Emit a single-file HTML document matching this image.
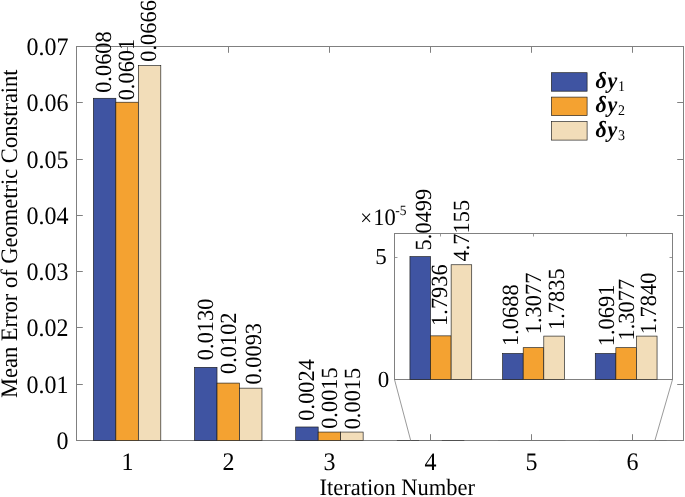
<!DOCTYPE html>
<html><head><meta charset="utf-8"><style>
html,body{margin:0;padding:0;background:#fff;}
body{width:685px;height:497px;overflow:hidden;}
svg{display:block;will-change:transform;}
text{font-family:"Liberation Serif",serif;fill:#000;text-rendering:geometricPrecision;}
.tk{font-size:24px;}
.tk2{font-size:23px;}
.tk3{font-size:22.5px;}
.tt{font-size:22.5px;}
.lb{font-size:22.4px;}
.lg{font-size:22px;}
</style></head><body>
<svg width="685" height="497" viewBox="0 0 685 497">
<rect width="685" height="497" fill="#fff"/>
<rect x="76.5" y="46.5" width="607.00" height="394.00" fill="none" stroke="#808080" stroke-width="1"/>
<line x1="76.5" y1="440.50" x2="82.80" y2="440.50" stroke="#808080"/>
<line x1="683.5" y1="440.50" x2="677.20" y2="440.50" stroke="#808080"/>
<text transform="translate(68.50,449.30) scale(1,1.05)" class="tk" text-anchor="end">0</text>
<line x1="76.5" y1="384.50" x2="82.80" y2="384.50" stroke="#808080"/>
<line x1="683.5" y1="384.50" x2="677.20" y2="384.50" stroke="#808080"/>
<text transform="translate(68.50,393.30) scale(1,1.05)" class="tk" text-anchor="end">0.01</text>
<line x1="76.5" y1="327.50" x2="82.80" y2="327.50" stroke="#808080"/>
<line x1="683.5" y1="327.50" x2="677.20" y2="327.50" stroke="#808080"/>
<text transform="translate(68.50,336.30) scale(1,1.05)" class="tk" text-anchor="end">0.02</text>
<line x1="76.5" y1="271.50" x2="82.80" y2="271.50" stroke="#808080"/>
<line x1="683.5" y1="271.50" x2="677.20" y2="271.50" stroke="#808080"/>
<text transform="translate(68.50,280.30) scale(1,1.05)" class="tk" text-anchor="end">0.03</text>
<line x1="76.5" y1="215.50" x2="82.80" y2="215.50" stroke="#808080"/>
<line x1="683.5" y1="215.50" x2="677.20" y2="215.50" stroke="#808080"/>
<text transform="translate(68.50,224.30) scale(1,1.05)" class="tk" text-anchor="end">0.04</text>
<line x1="76.5" y1="159.50" x2="82.80" y2="159.50" stroke="#808080"/>
<line x1="683.5" y1="159.50" x2="677.20" y2="159.50" stroke="#808080"/>
<text transform="translate(68.50,168.30) scale(1,1.05)" class="tk" text-anchor="end">0.05</text>
<line x1="76.5" y1="102.50" x2="82.80" y2="102.50" stroke="#808080"/>
<line x1="683.5" y1="102.50" x2="677.20" y2="102.50" stroke="#808080"/>
<text transform="translate(68.50,111.30) scale(1,1.05)" class="tk" text-anchor="end">0.06</text>
<line x1="76.5" y1="46.50" x2="82.80" y2="46.50" stroke="#808080"/>
<line x1="683.5" y1="46.50" x2="677.20" y2="46.50" stroke="#808080"/>
<text transform="translate(68.50,55.30) scale(1,1.05)" class="tk" text-anchor="end">0.07</text>
<line x1="127.50" y1="440.5" x2="127.50" y2="434.20" stroke="#808080"/>
<line x1="127.50" y1="46.5" x2="127.50" y2="52.80" stroke="#808080"/>
<text transform="translate(127.50,470.00) scale(1,1.05)" class="tk" text-anchor="middle">1</text>
<line x1="228.50" y1="440.5" x2="228.50" y2="434.20" stroke="#808080"/>
<line x1="228.50" y1="46.5" x2="228.50" y2="52.80" stroke="#808080"/>
<text transform="translate(228.50,470.00) scale(1,1.05)" class="tk" text-anchor="middle">2</text>
<line x1="329.50" y1="440.5" x2="329.50" y2="434.20" stroke="#808080"/>
<line x1="329.50" y1="46.5" x2="329.50" y2="52.80" stroke="#808080"/>
<text transform="translate(329.50,470.00) scale(1,1.05)" class="tk" text-anchor="middle">3</text>
<line x1="430.50" y1="440.5" x2="430.50" y2="434.20" stroke="#808080"/>
<line x1="430.50" y1="46.5" x2="430.50" y2="52.80" stroke="#808080"/>
<text transform="translate(430.50,470.00) scale(1,1.05)" class="tk" text-anchor="middle">4</text>
<line x1="531.50" y1="440.5" x2="531.50" y2="434.20" stroke="#808080"/>
<line x1="531.50" y1="46.5" x2="531.50" y2="52.80" stroke="#808080"/>
<text transform="translate(531.50,470.00) scale(1,1.05)" class="tk" text-anchor="middle">5</text>
<line x1="632.50" y1="440.5" x2="632.50" y2="434.20" stroke="#808080"/>
<line x1="632.50" y1="46.5" x2="632.50" y2="52.80" stroke="#808080"/>
<text transform="translate(632.50,470.00) scale(1,1.05)" class="tk" text-anchor="middle">6</text>
<rect x="93.36" y="98.28" width="22.48" height="342.22" fill="#3F54A2" stroke="#1a1a1a" stroke-width="0.65"/>
<rect x="115.84" y="102.22" width="22.48" height="338.28" fill="#F4A231" stroke="#1a1a1a" stroke-width="0.65"/>
<rect x="138.32" y="65.64" width="22.48" height="374.86" fill="#F2DDB9" stroke="#1a1a1a" stroke-width="0.65"/>
<rect x="194.53" y="367.33" width="22.48" height="73.17" fill="#3F54A2" stroke="#1a1a1a" stroke-width="0.65"/>
<rect x="217.01" y="383.09" width="22.48" height="57.41" fill="#F4A231" stroke="#1a1a1a" stroke-width="0.65"/>
<rect x="239.49" y="388.15" width="22.48" height="52.35" fill="#F2DDB9" stroke="#1a1a1a" stroke-width="0.65"/>
<rect x="295.69" y="426.99" width="22.48" height="13.51" fill="#3F54A2" stroke="#1a1a1a" stroke-width="0.65"/>
<rect x="318.18" y="432.06" width="22.48" height="8.44" fill="#F4A231" stroke="#1a1a1a" stroke-width="0.65"/>
<rect x="340.66" y="432.06" width="22.48" height="8.44" fill="#F2DDB9" stroke="#1a1a1a" stroke-width="0.65"/>
<line x1="396.86" y1="440.5" x2="419.34" y2="440.5" stroke="#505050" stroke-width="1"/>
<line x1="419.34" y1="440.5" x2="441.82" y2="440.5" stroke="#767676" stroke-width="1"/>
<line x1="441.82" y1="440.5" x2="464.31" y2="440.5" stroke="#505050" stroke-width="1"/>
<line x1="498.03" y1="440.5" x2="520.51" y2="440.5" stroke="#767676" stroke-width="1"/>
<line x1="520.51" y1="440.5" x2="542.99" y2="440.5" stroke="#767676" stroke-width="1"/>
<line x1="542.99" y1="440.5" x2="565.47" y2="440.5" stroke="#767676" stroke-width="1"/>
<line x1="599.19" y1="440.5" x2="621.68" y2="440.5" stroke="#767676" stroke-width="1"/>
<line x1="621.68" y1="440.5" x2="644.16" y2="440.5" stroke="#767676" stroke-width="1"/>
<line x1="644.16" y1="440.5" x2="666.64" y2="440.5" stroke="#767676" stroke-width="1"/>
<text transform="translate(111.40,92.84) rotate(-90) scale(1,1.035)" class="lb">0.0608</text>
<text transform="translate(133.55,100.34) rotate(-90) scale(1,1.035)" class="lb">0.0601</text>
<text transform="translate(155.85,61.74) rotate(-90) scale(1,1.035)" class="lb">0.0666</text>
<text transform="translate(212.80,360.14) rotate(-90) scale(1,1.035)" class="lb">0.0130</text>
<text transform="translate(236.30,374.04) rotate(-90) scale(1,1.035)" class="lb">0.0102</text>
<text transform="translate(260.50,384.54) rotate(-90) scale(1,1.035)" class="lb">0.0093</text>
<text transform="translate(313.90,420.64) rotate(-90) scale(1,1.035)" class="lb">0.0024</text>
<text transform="translate(336.70,428.84) rotate(-90) scale(1,1.035)" class="lb">0.0015</text>
<text transform="translate(359.60,429.34) rotate(-90) scale(1,1.035)" class="lb">0.0015</text>
<text transform="translate(397.30,495.20) scale(1,1.05)" class="tt" text-anchor="middle">Iteration Number</text>
<text transform="translate(17.00,233.70) rotate(-90) scale(1,1.05)" class="tt" text-anchor="middle">Mean Error of Geometric Constraint</text>
<rect x="551.4" y="72.7" width="35.7" height="18.5" fill="#3F54A2" stroke="#1a1a1a" stroke-width="0.65"/>
<text transform="translate(595.60,87.90) scale(1,1.05)" class="lg"><tspan font-weight="bold" font-style="italic">δ<tspan dx="0.6">y</tspan></tspan><tspan font-size="14" dx="0.7" dy="3">1</tspan></text>
<rect x="551.4" y="97.1" width="35.7" height="18.5" fill="#F4A231" stroke="#1a1a1a" stroke-width="0.65"/>
<text transform="translate(595.60,112.30) scale(1,1.05)" class="lg"><tspan font-weight="bold" font-style="italic">δ<tspan dx="0.6">y</tspan></tspan><tspan font-size="14" dx="0.7" dy="3">2</tspan></text>
<rect x="551.4" y="121.6" width="35.7" height="18.5" fill="#F2DDB9" stroke="#1a1a1a" stroke-width="0.65"/>
<text transform="translate(595.60,136.80) scale(1,1.05)" class="lg"><tspan font-weight="bold" font-style="italic">δ<tspan dx="0.6">y</tspan></tspan><tspan font-size="14" dx="0.7" dy="3">3</tspan></text>
<line x1="394.5" y1="379.5" x2="410.7" y2="440.5" stroke="#808080" stroke-width="0.8"/>
<line x1="672.5" y1="379.5" x2="654.9" y2="440.5" stroke="#808080" stroke-width="0.8"/>
<rect x="394.5" y="233.5" width="278.00" height="146.00" fill="#fff" stroke="#808080" stroke-width="1"/>
<line x1="394.5" y1="379.50" x2="397.50" y2="379.50" stroke="#808080" stroke-width="0.8"/>
<line x1="672.5" y1="379.50" x2="669.50" y2="379.50" stroke="#808080" stroke-width="0.8"/>
<text x="389.3" y="386.5" class="tk2" text-anchor="end">0</text>
<line x1="394.5" y1="257.50" x2="397.50" y2="257.50" stroke="#808080" stroke-width="0.8"/>
<line x1="672.5" y1="257.50" x2="669.50" y2="257.50" stroke="#808080" stroke-width="0.8"/>
<text x="386.8" y="263.8" class="tk2" text-anchor="end">5</text>
<line x1="440.50" y1="233.5" x2="440.50" y2="236.50" stroke="#808080" stroke-width="0.8"/>
<line x1="440.50" y1="379.5" x2="440.50" y2="376.50" stroke="#808080" stroke-width="0.8"/>
<line x1="533.50" y1="233.5" x2="533.50" y2="236.50" stroke="#808080" stroke-width="0.8"/>
<line x1="533.50" y1="379.5" x2="533.50" y2="376.50" stroke="#808080" stroke-width="0.8"/>
<line x1="626.50" y1="233.5" x2="626.50" y2="236.50" stroke="#808080" stroke-width="0.8"/>
<line x1="626.50" y1="379.5" x2="626.50" y2="376.50" stroke="#808080" stroke-width="0.8"/>
<rect x="409.94" y="256.62" width="20.59" height="122.88" fill="#3F54A2" stroke="#1a1a1a" stroke-width="0.65"/>
<text transform="translate(430.85,250.40) rotate(-90) scale(1,1.035)" class="lb">5.0499</text>
<rect x="430.54" y="335.86" width="20.59" height="43.64" fill="#F4A231" stroke="#1a1a1a" stroke-width="0.65"/>
<text transform="translate(446.70,325.90) rotate(-90) scale(1,1.035)" class="lb">1.7936</text>
<rect x="451.13" y="264.76" width="20.59" height="114.74" fill="#F2DDB9" stroke="#1a1a1a" stroke-width="0.65"/>
<text transform="translate(469.20,261.50) rotate(-90) scale(1,1.035)" class="lb">4.7155</text>
<rect x="502.61" y="353.49" width="20.59" height="26.01" fill="#3F54A2" stroke="#1a1a1a" stroke-width="0.65"/>
<text transform="translate(518.20,346.00) rotate(-90) scale(1,1.035)" class="lb">1.0688</text>
<rect x="523.20" y="347.68" width="20.59" height="31.82" fill="#F4A231" stroke="#1a1a1a" stroke-width="0.65"/>
<text transform="translate(541.00,334.20) rotate(-90) scale(1,1.035)" class="lb">1.3077</text>
<rect x="543.80" y="336.10" width="20.59" height="43.40" fill="#F2DDB9" stroke="#1a1a1a" stroke-width="0.65"/>
<text transform="translate(563.60,330.00) rotate(-90) scale(1,1.035)" class="lb">1.7835</text>
<rect x="595.28" y="353.49" width="20.59" height="26.01" fill="#3F54A2" stroke="#1a1a1a" stroke-width="0.65"/>
<text transform="translate(613.70,346.20) rotate(-90) scale(1,1.035)" class="lb">1.0691</text>
<rect x="615.87" y="347.68" width="20.59" height="31.82" fill="#F4A231" stroke="#1a1a1a" stroke-width="0.65"/>
<text transform="translate(634.10,340.50) rotate(-90) scale(1,1.035)" class="lb">1.3077</text>
<rect x="636.46" y="336.09" width="20.59" height="43.41" fill="#F2DDB9" stroke="#1a1a1a" stroke-width="0.65"/>
<text transform="translate(656.30,334.20) rotate(-90) scale(1,1.035)" class="lb">1.7840</text>
<text transform="translate(360.20,224.80) scale(1,1.05)" class="tk3"><tspan font-size="21">×</tspan><tspan dx="1.3">10</tspan><tspan font-size="13.5" dx="-0.6" dy="-9.8">-5</tspan></text>
</svg>
</body></html>
